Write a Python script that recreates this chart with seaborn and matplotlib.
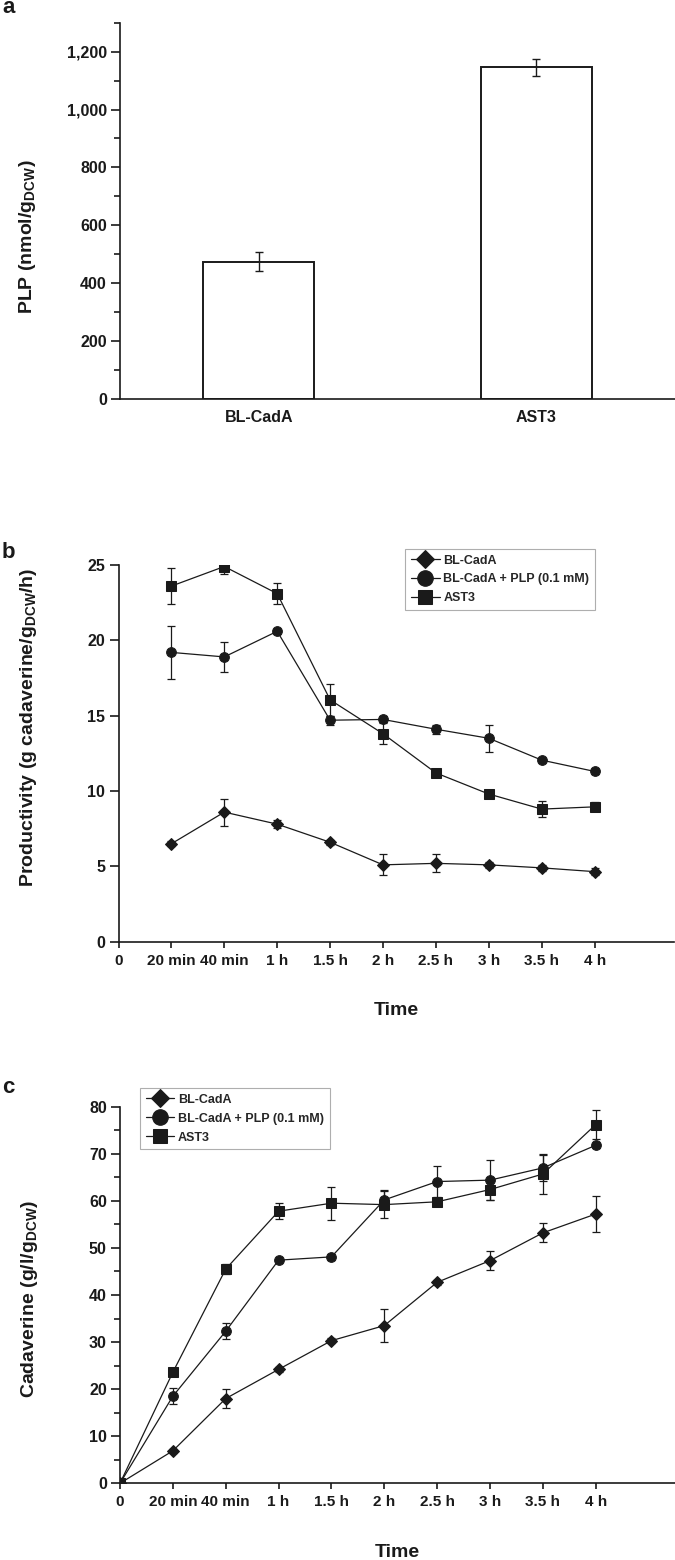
import numpy as np
import pandas as pd
import matplotlib
matplotlib.use('Agg')
import matplotlib.pyplot as plt
from matplotlib.ticker import MultipleLocator, FuncFormatter
import seaborn as sns

sns.set_style("ticks")
plt.rcParams['font.family'] = ['Liberation Sans', 'DejaVu Sans']
plt.rcParams['font.weight'] = 'bold'
plt.rcParams['mathtext.fontset'] = 'custom'
plt.rcParams['mathtext.rm'] = 'Liberation Sans:bold'
plt.rcParams['mathtext.bf'] = 'Liberation Sans:bold'
plt.rcParams['mathtext.default'] = 'bf'

# --- data ---
strains = ['BL-CadA', 'AST3']
plp = [475, 1146]
plp_err = [32, 29]

time_labels = ['0', '20 min', '40 min', '1 h', '1.5 h', '2 h', '2.5 h', '3 h', '3.5 h', '4 h']
series_names = ['BL-CadA', 'BL-CadA + PLP (0.1 mM)', 'AST3']
series_markers = ['D', 'o', 's']
series_msize = [6, 7, 6.5]

# productivity (panel b), from 20 min onward
prod_bl = [6.5, 8.6, 7.8, 6.6, 5.1, 5.2, 5.1, 4.9, 4.65]
prod_bl_err = [0.15, 0.9, 0.25, 0.15, 0.7, 0.6, 0.2, 0.2, 0.25]
prod_plp = [19.2, 18.9, 20.6, 14.7, 14.75, 14.1, 13.5, 12.05, 11.3]
prod_plp_err = [1.75, 1.0, 0.15, 0.3, 0.2, 0.3, 0.9, 0.15, 0.15]
prod_ast = [23.6, 24.9, 23.1, 16.05, 13.8, 11.2, 9.8, 8.8, 8.95]
prod_ast_err = [1.2, 0.5, 0.7, 1.05, 0.7, 0.2, 0.2, 0.55, 0.3]

# cadaverine (panel c), from 0 onward
cad_bl = [0, 6.9, 18.0, 24.2, 30.3, 33.5, 42.7, 47.3, 53.2, 57.2]
cad_bl_err = [0, 0.4, 2.0, 0.6, 0.5, 3.5, 0.5, 2.0, 2.0, 3.8]
cad_plp = [0, 18.5, 32.3, 47.4, 48.1, 60.2, 64.1, 64.4, 67.0, 71.8]
cad_plp_err = [0, 1.75, 1.75, 0.3, 0.7, 2.0, 3.3, 4.2, 2.8, 0.5]
cad_ast = [0, 23.6, 45.5, 57.8, 59.5, 59.2, 59.8, 62.4, 65.7, 76.2]
cad_ast_err = [0, 0.9, 1.0, 1.7, 3.5, 2.9, 0.3, 2.2, 4.2, 3.0]

ink = '#1a1a1a'
W, H = 675, 1560
fig = plt.figure(figsize=(W / 100, H / 100), dpi=100)


def box(left, top, right, bottom):
    return [left / W, 1 - bottom / H, (right - left) / W, (bottom - top) / H]


def style_axis(ax):
    sns.despine(ax=ax)
    for s in ['left', 'bottom']:
        ax.spines[s].set_linewidth(1.2)
        ax.spines[s].set_color(ink)
    ax.tick_params(axis='y', which='major', length=6.5, width=1.2, pad=3, labelsize=11.5, colors=ink)
    ax.tick_params(axis='y', which='minor', length=4, width=1.2, colors=ink)
    for lab in ax.get_xticklabels() + ax.get_yticklabels():
        lab.set_fontweight('bold')


# --- panel a ---
ax_a = fig.add_axes(box(120, 22.7, 675, 399))
df_a = pd.DataFrame({'strain': strains, 'plp': plp})
sns.barplot(data=df_a, x='strain', y='plp', ax=ax_a, width=0.4, color='white',
            edgecolor=ink, linewidth=1.4, errorbar=None)
ax_a.errorbar(np.arange(len(strains)), plp, yerr=plp_err, fmt='none',
              ecolor=ink, elinewidth=1, capsize=3, capthick=1)
ax_a.set_xlim(-0.5, 1.5)
ax_a.set_ylim(0, 1300)
ax_a.yaxis.set_major_locator(MultipleLocator(200))
ax_a.yaxis.set_minor_locator(MultipleLocator(100))
ax_a.yaxis.set_major_formatter(FuncFormatter(lambda v, p: f'{int(v):,}'))
ax_a.set_xlabel('')
ax_a.set_ylabel(r'PLP (nmol/g$_{DCW}$)', fontsize=14, fontweight='bold', color=ink)
style_axis(ax_a)
ax_a.tick_params(axis='x', length=0, pad=8, labelsize=11.5, colors=ink)
ax_a.yaxis.set_label_coords(-0.148, 0.43)


def line_panel(ax, xs, ys, errs, ylim, major, minor, ylabel, leg_anchor, label_y):
    for y, e, name, m, ms in zip(ys, errs, series_names, series_markers, series_msize):
        sns.lineplot(x=xs, y=y, ax=ax, color=ink, linewidth=0.9, marker=m,
                     markersize=ms, markerfacecolor=ink, markeredgecolor=ink,
                     label=name, sort=False, clip_on=True)
        ax.errorbar(xs, y, yerr=e, fmt='none', ecolor=ink, elinewidth=0.9,
                    capsize=3, capthick=0.9)
    ax.set_xlim(0, 10.5)
    ax.set_ylim(*ylim)
    ax.set_xticks(np.arange(len(time_labels)))
    ax.set_xticklabels(time_labels)
    ax.yaxis.set_major_locator(MultipleLocator(major))
    if minor:
        ax.yaxis.set_minor_locator(MultipleLocator(minor))
    ax.set_xlabel('Time', fontsize=14, fontweight='bold', color=ink)
    ax.set_ylabel(ylabel, fontsize=14, fontweight='bold', color=ink)
    style_axis(ax)
    ax.tick_params(axis='x', length=4.5, width=1.2, pad=4, labelsize=11, colors=ink)
    ax.yaxis.set_label_coords(-0.144, label_y)
    ax.xaxis.set_label_coords(0.5, -0.16)
    leg = ax.legend(loc='upper left', bbox_to_anchor=leg_anchor, borderaxespad=0,
                    frameon=True, fancybox=False, edgecolor='#9a9a9a',
                    markerscale=1.6, handlelength=2.3, labelspacing=0.55,
                    borderpad=0.45, handletextpad=0.3,
                    prop={'weight': 'bold', 'size': 9})
    leg.get_frame().set_linewidth(0.8)


# --- panel b ---
ax_b = fig.add_axes(box(118.5, 565, 674, 941.7))
line_panel(ax_b, np.arange(1, 10), [prod_bl, prod_plp, prod_ast],
           [prod_bl_err, prod_plp_err, prod_ast_err], (0, 25), 5, None,
           r'Productivity (g cadaverine/g$_{DCW}$/h)', (0.516, 1.0425), 0.57)

# --- panel c ---
ax_c = fig.add_axes(box(120, 1106.7, 675, 1483.3))
line_panel(ax_c, np.arange(0, 10), [cad_bl, cad_plp, cad_ast],
           [cad_bl_err, cad_plp_err, cad_ast_err], (0, 80), 10, 5,
           r'Cadaverine (g/l/g$_{DCW}$)', (0.036, 1.049), 0.49)

# panel letters
for letter, ybase in [('a', 13), ('b', 558), ('c', 1093)]:
    fig.text(2 / W, 1 - ybase / H, letter, fontsize=16, fontweight='bold',
             color=ink, va='baseline', ha='left')

fig.savefig('out.png', dpi=100)
